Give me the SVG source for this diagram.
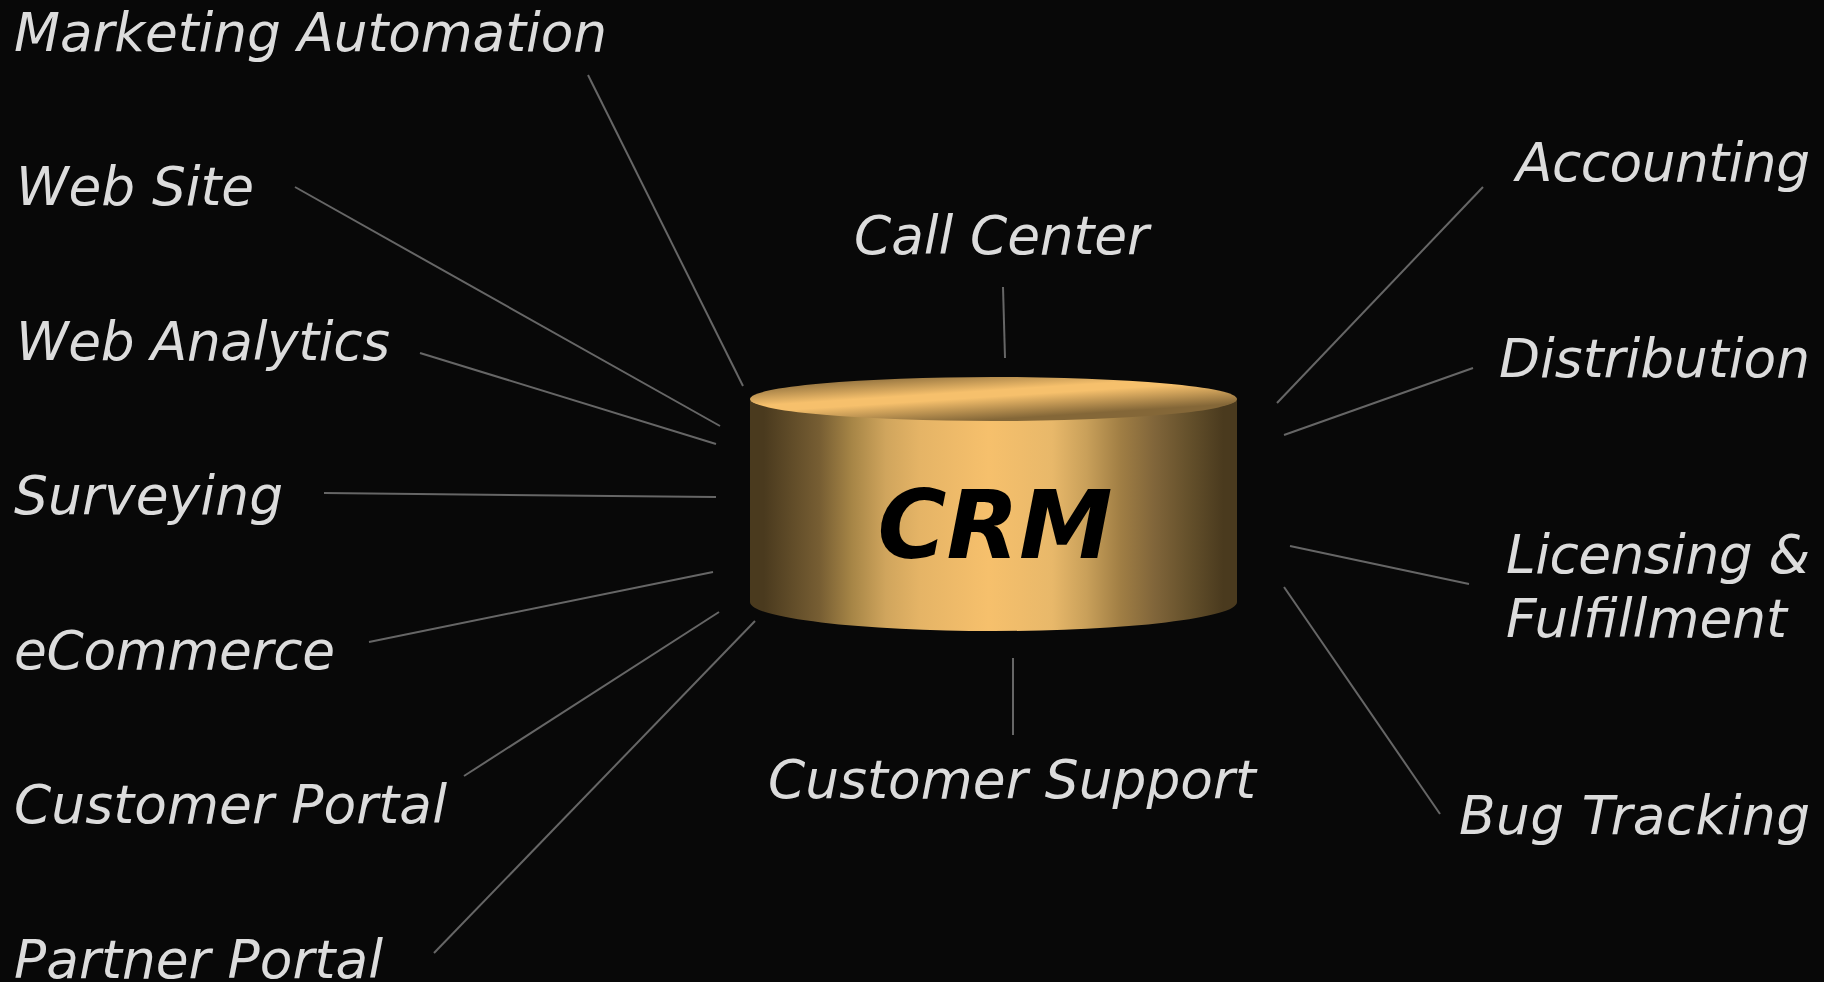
<svg xmlns="http://www.w3.org/2000/svg" width="1824" height="982" viewBox="0 0 1824 982">
<style>
.l{font-family:"DejaVu Sans",sans-serif;font-style:oblique;font-size:53.33px;fill:#dcdcdc}
.e{text-anchor:end}
.c line{stroke:#666;stroke-width:2}
</style>
<defs>
<linearGradient id="b" x1="749" x2="1238" y1="0" y2="0" gradientUnits="userSpaceOnUse">
<stop offset="0" stop-color="#4a3a1e"/><stop offset=".03" stop-color="#4a3a1e"/><stop offset=".145" stop-color="#775e33"/><stop offset=".21" stop-color="#a68546"/><stop offset=".28" stop-color="#d0a55d"/><stop offset=".35" stop-color="#e5b466"/><stop offset=".49" stop-color="#f6c06c"/><stop offset=".62" stop-color="#e8b86a"/><stop offset=".69" stop-color="#c9a05a"/><stop offset=".76" stop-color="#a07e44"/><stop offset=".83" stop-color="#80653a"/><stop offset=".9" stop-color="#64502b"/><stop offset=".97" stop-color="#4a3a1e"/><stop offset="1" stop-color="#4a3a1e"/>
</linearGradient>
<linearGradient id="t" x1="991" y1="367.500" x2="994.400" y2="419.500" gradientUnits="userSpaceOnUse">
<stop offset="0" stop-color="#846738"/><stop offset=".44" stop-color="#f6c06c"/><stop offset=".56" stop-color="#f6c06c"/><stop offset="1" stop-color="#846738"/>
</linearGradient>
</defs>
<rect width="1824" height="982" fill="#080808"/>
<g class="c">
<line x1="588" y1="75" x2="743" y2="386"/>
<line x1="295" y1="187" x2="720" y2="426"/>
<line x1="420" y1="353" x2="716" y2="444"/>
<line x1="324" y1="493" x2="716" y2="497"/>
<line x1="369" y1="642" x2="713" y2="572"/>
<line x1="464" y1="776" x2="719" y2="612"/>
<line x1="434" y1="953" x2="755" y2="621"/>
<line x1="1003" y1="287" x2="1005" y2="358"/>
<line x1="1013" y1="658" x2="1013" y2="735"/>
<line x1="1483" y1="187" x2="1277" y2="403"/>
<line x1="1473" y1="368" x2="1284" y2="435"/>
<line x1="1469" y1="584" x2="1290" y2="546"/>
<line x1="1440" y1="814" x2="1284" y2="587"/>
</g>
<g id="crm">
<path d="M750 399V602A243.500 29 0 0 0 1237 602V399Z" fill="url(#b)"/>
<ellipse cx="993.500" cy="399" rx="243.500" ry="22" fill="url(#t)"/>
<text x="995" y="558" text-anchor="middle" font-family="DejaVu Sans, sans-serif" font-weight="700" font-style="oblique" font-size="94" fill="#000">CRM</text>
</g>
<g id="n1"><text class="l" x="14" y="50.500" textLength="593">Marketing Automation</text></g>
<g id="n2"><text class="l" x="16" y="205" textLength="238">Web Site</text></g>
<g id="n3"><text class="l" x="16" y="360" textLength="374">Web Analytics</text></g>
<g id="n4"><text class="l" x="14" y="514" textLength="269">Surveying</text></g>
<g id="n5"><text class="l" x="14" y="668.500" textLength="321">eCommerce</text></g>
<g id="n6"><text class="l" x="14" y="823" textLength="433">Customer Portal</text></g>
<g id="n7"><text class="l" x="14" y="978" textLength="369">Partner Portal</text></g>
<g id="n8"><text class="l" x="854" y="254" textLength="295">Call Center</text></g>
<g id="n9"><text class="l" x="768" y="798" textLength="488">Customer Support</text></g>
<g id="n10"><text class="l e" x="1810" y="181" textLength="294">Accounting</text></g>
<g id="n11"><text class="l e" x="1810" y="377" textLength="311">Distribution</text></g>
<g id="n12"><text class="l" x="1506" y="573" textLength="304">Licensing &amp;</text><text class="l" x="1506" y="637" textLength="281">Fulfillment</text></g>
<g id="n13"><text class="l e" x="1810" y="834" textLength="351">Bug Tracking</text></g>
</svg>
